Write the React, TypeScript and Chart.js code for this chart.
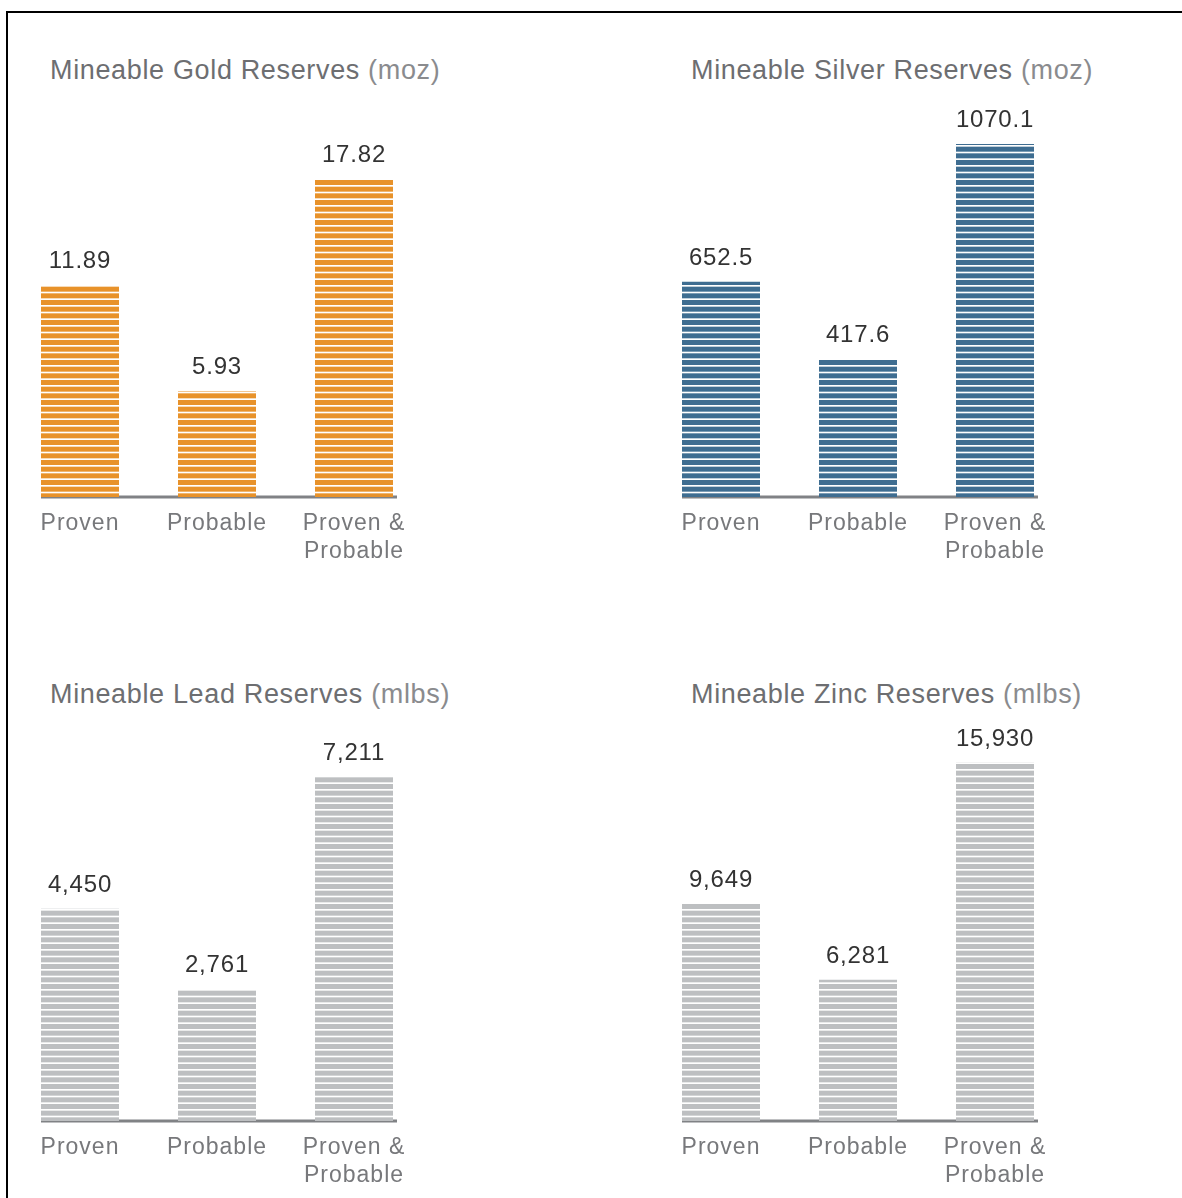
import React, { useEffect, useRef } from "react";
import { Chart, registerables } from "chart.js";

Chart.register(...registerables);

// ---- data ----
const categories: (string | string[])[] = ["Proven", "Probable", ["Proven &", "Probable"]];

const goldValues = [11.89, 5.93, 17.82];
const silverValues = [652.5, 417.6, 1070.1];
const leadValues = [4450, 2761, 7211];
const zincValues = [9649, 6281, 15930];

const goldLabels = ["11.89", "5.93", "17.82"];
const silverLabels = ["652.5", "417.6", "1070.1"];
const leadLabels = ["4,450", "2,761", "7,211"];
const zincLabels = ["9,649", "6,281", "15,930"];

const panelTitles = [
  "Mineable Gold Reserves",
  "Mineable Silver Reserves",
  "Mineable Lead Reserves",
  "Mineable Zinc Reserves",
];
const panelUnits = ["(moz)", "(moz)", "(mlbs)", "(mlbs)"];
const axisMax = [20.2, 1091, 7547, 16000];

const FONT = "'Liberation Sans', Arial, sans-serif";

function makeStripePattern(color: string): CanvasPattern | string {
  const c = document.createElement("canvas");
  c.width = 4;
  c.height = 20;
  const ctx = c.getContext("2d");
  if (!ctx) return color;
  ctx.fillStyle = "#ffffff";
  ctx.fillRect(0, 0, 4, 20);
  ctx.fillStyle = color;
  const pitch = 20 / 3;
  for (let i = 0; i < 3; i++) {
    ctx.fillRect(0, i * pitch, 4, 5);
  }
  return ctx.createPattern(c, "repeat") || color;
}

const decoPlugin = {
  id: "panelDeco",
  beforeUpdate(chart: any) {
    chart.ctx.letterSpacing = "1px";
  },
  beforeDraw(chart: any) {
    chart.ctx.letterSpacing = "1px";
  },
  beforeDatasetsDraw(chart: any) {
    const ctx = chart.ctx;
    const meta = chart.getDatasetMeta(0);
    const first = meta.data[0] as any;
    const last = meta.data[meta.data.length - 1] as any;
    const y = chart.scales.y.getPixelForValue(0);
    const x0 = first.x - first.width / 2;
    const x1 = last.x + last.width / 2 + 4;
    ctx.save();
    ctx.fillStyle = "#808285";
    ctx.fillRect(x0, y - 1.5, x1 - x0, 3);
    ctx.restore();
  },
  afterDatasetsDraw(chart: any, _args: any, opts: any) {
    const ctx = chart.ctx;
    const meta = chart.getDatasetMeta(0);
    const labels: string[] = opts.labels || [];
    ctx.save();
    ctx.letterSpacing = "0.8px";
    ctx.font = `24px ${FONT}`;
    ctx.fillStyle = "#333333";
    ctx.textAlign = "center";
    ctx.textBaseline = "alphabetic";
    meta.data.forEach((bar: any, i: number) => {
      ctx.fillText(labels[i], bar.x, bar.y - 17);
    });
    ctx.restore();
  },
};

type PanelProps = {
  title: string;
  unit: string;
  values: number[];
  labels: string[];
  color: string;
  max: number;
  left: number;
  top: number;
};

function Panel({ title, unit, values, labels, color, max, left, top }: PanelProps) {
  const ref = useRef<HTMLCanvasElement | null>(null);

  useEffect(() => {
    if (!ref.current) return;
    const chart = new Chart(ref.current, {
      type: "bar",
      data: {
        labels: categories as any,
        datasets: [
          {
            data: values,
            backgroundColor: makeStripePattern(color) as any,
            borderWidth: 0,
            barPercentage: 78 / 137,
            categoryPercentage: 1,
          },
        ],
      },
      options: {
        responsive: false,
        animation: false,
        devicePixelRatio: 1,
        layout: { padding: { left: 11.5, right: 37.5, top: 37, bottom: 0 } },
        plugins: {
          legend: { display: false },
          tooltip: { enabled: false },
          title: { display: false },
          panelDeco: { labels },
        } as any,
        scales: {
          x: {
            type: "category",
            offset: true,
            grid: { display: false },
            border: { display: false },
            ticks: {
              color: "#77787b",
              font: { family: FONT, size: 23, lineHeight: 1.22 },
              padding: 5,
              maxRotation: 0,
              autoSkip: false,
            },
            afterFit: (scale: any) => {
              scale.height = 73;
            },
          },
          y: {
            display: false,
            min: 0,
            max,
          },
        },
      },
      plugins: [decoPlugin as any],
    });
    return () => chart.destroy();
  }, []);

  return (
    <>
      <div
        style={{
          position: "absolute",
          left: left + 50,
          top: top - 43.5,
          fontFamily: FONT,
          fontSize: 27,
          lineHeight: "27px",
          letterSpacing: "0.65px",
          whiteSpace: "nowrap",
          color: "#6d6e71",
        }}
      >
        {title} <span style={{ color: "#8a8b8e" }}>{unit}</span>
      </div>
      <canvas
        ref={ref}
        width={460}
        height={470}
        style={{ position: "absolute", left, top, width: 460, height: 470 }}
      />
    </>
  );
}

export default function App() {
  return (
    <div
      style={{
        position: "absolute",
        left: 0,
        top: 0,
        width: 1182,
        height: 1198,
        overflow: "hidden",
        background: "#ffffff",
      }}
    >
      <div
        style={{
          position: "absolute",
          left: 6,
          top: 11,
          width: 1176,
          height: 1187,
          borderTop: "2px solid #000",
          borderLeft: "2px solid #000",
          boxSizing: "border-box",
        }}
      />
      <Panel title={panelTitles[0]} unit={panelUnits[0]} values={goldValues} labels={goldLabels} color="#e8922a" max={axisMax[0]} left={0} top={100} />
      <Panel title={panelTitles[1]} unit={panelUnits[1]} values={silverValues} labels={silverLabels} color="#3e6d91" max={axisMax[1]} left={641} top={100} />
      <Panel title={panelTitles[2]} unit={panelUnits[2]} values={leadValues} labels={leadLabels} color="#bdbfc1" max={axisMax[2]} left={0} top={724} />
      <Panel title={panelTitles[3]} unit={panelUnits[3]} values={zincValues} labels={zincLabels} color="#bdbfc1" max={axisMax[3]} left={641} top={724} />
    </div>
  );
}
